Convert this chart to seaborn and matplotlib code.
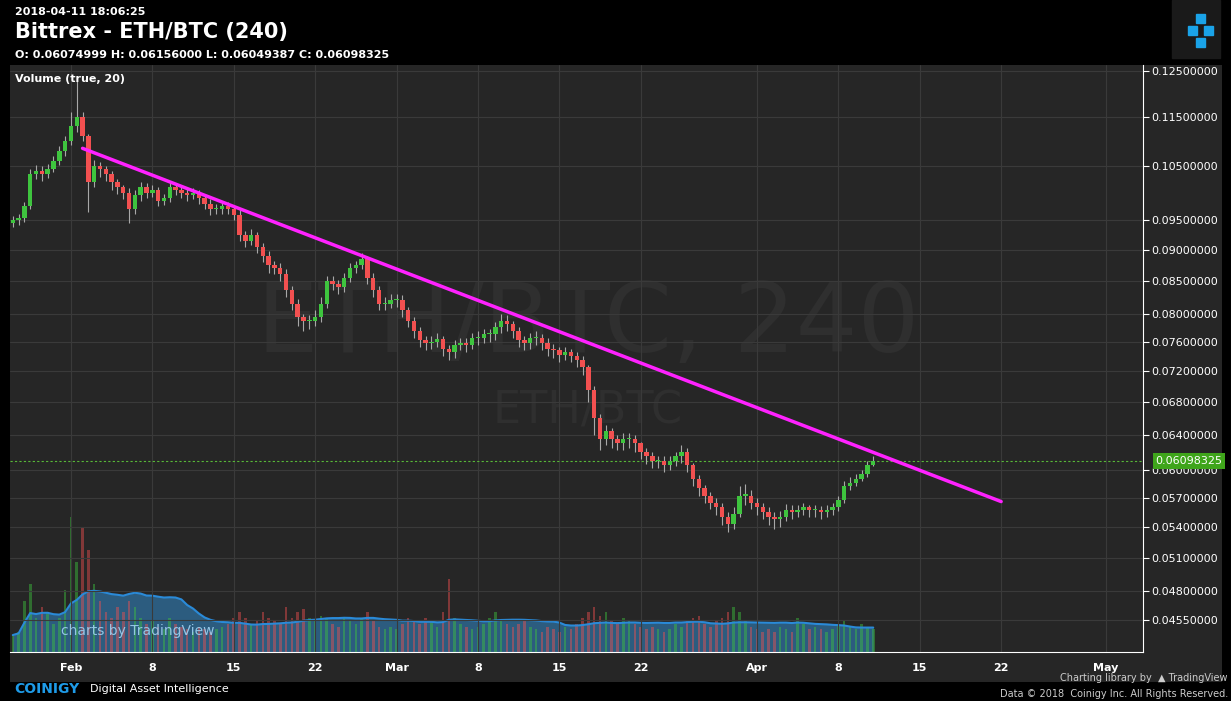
import numpy as np
import pandas as pd
import matplotlib
matplotlib.use("Agg")
import matplotlib.pyplot as plt
import seaborn as sns
from matplotlib.patches import Rectangle

closes = [.0950,.0955,.0975,.1035,.1040,.1035,.1045,.1060,.1080,.1100,
.1130,.1150,.1110,.1020,.1050,.1045,.1035,.1020,.1010,.1000,
.0970,.0995,.1010,.1000,.1005,.0985,.0990,.1010,.1005,.1000,
.0995,.1000,.0990,.0980,.0970,.0970,.0975,.0970,.0960,.0925,
.0915,.0925,.0905,.0890,.0875,.0870,.0860,.0835,.0815,.0795,
.0790,.0790,.0795,.0815,.0850,.0845,.0840,.0855,.0870,.0875,
.0885,.0855,.0835,.0815,.0815,.0820,.0820,.0805,.0790,.0775,
.0762,.0758,.0760,.0763,.0750,.0745,.0755,.0758,.0755,.0765,
.0765,.0770,.0770,.0780,.0790,.0785,.0775,.0762,.0758,.0765,
.0765,.0758,.0750,.0748,.0742,.0745,.0740,.0735,.0725,.0695,
.0660,.0635,.0645,.0635,.0630,.0635,.0635,.0630,.0620,.0615,
.0610,.0610,.0605,.0610,.0615,.0620,.0605,.0590,.0580,.0572,
.0565,.0560,.0550,.0543,.0553,.0572,.0572,.0565,.0560,.0555,
.0550,.0548,.0550,.0557,.0555,.0557,.0560,.0557,.0557,.0555,
.0557,.0560,.0568,.0582,.0586,.0590,.0595,.0605,.0610]
first_open = 0.0945
highs = [.0958,.0962,.0982,.1045,.1052,.1050,.1055,.1070,.1090,.1110,
.1160,.1230,.1160,.1115,.1062,.1058,.1050,.1040,.1025,.1015,
.1008,.1005,.1020,.1018,.1015,.1010,.0998,.1020,.1015,.1012,
.1008,.1008,.1005,.0995,.0988,.0980,.0985,.0982,.0978,.0968,
.0932,.0935,.0930,.0912,.0898,.0882,.0878,.0868,.0842,.0822,
.0800,.0798,.0805,.0825,.0858,.0858,.0852,.0862,.0878,.0882,
.0895,.0890,.0862,.0842,.0825,.0830,.0830,.0828,.0810,.0795,
.0780,.0768,.0768,.0772,.0768,.0755,.0762,.0765,.0765,.0772,
.0775,.0778,.0778,.0788,.0800,.0798,.0790,.0780,.0768,.0772,
.0775,.0770,.0765,.0756,.0752,.0752,.0750,.0745,.0740,.0728,
.0700,.0665,.0652,.0648,.0640,.0642,.0642,.0640,.0632,.0625,
.0620,.0616,.0615,.0616,.0620,.0628,.0625,.0608,.0594,.0584,
.0576,.0570,.0565,.0555,.0560,.0582,.0585,.0578,.0570,.0565,
.0560,.0555,.0556,.0563,.0562,.0562,.0564,.0562,.0562,.0561,
.0562,.0565,.0572,.0588,.0592,.0596,.0600,.0610,.0616]
lows = [.0938,.0942,.0948,.0970,.1025,.1022,.1028,.1038,.1052,.1070,
.1092,.1118,.1100,.0965,.1010,.1030,.1022,.1005,.0998,.0988,
.0945,.0962,.0985,.0990,.0992,.0975,.0978,.0982,.0995,.0990,
.0985,.0988,.0980,.0970,.0960,.0962,.0962,.0962,.0950,.0915,
.0905,.0908,.0895,.0880,.0862,.0860,.0850,.0825,.0805,.0782,
.0775,.0778,.0782,.0788,.0808,.0835,.0830,.0832,.0848,.0862,
.0868,.0845,.0825,.0805,.0805,.0808,.0810,.0795,.0780,.0765,
.0752,.0748,.0750,.0752,.0740,.0735,.0738,.0748,.0745,.0750,
.0755,.0758,.0760,.0762,.0772,.0775,.0765,.0752,.0748,.0750,
.0755,.0748,.0740,.0738,.0732,.0735,.0732,.0725,.0715,.0680,
.0640,.0622,.0628,.0625,.0622,.0622,.0625,.0620,.0612,.0606,
.0602,.0602,.0598,.0600,.0604,.0608,.0598,.0582,.0572,.0564,
.0558,.0552,.0542,.0535,.0538,.0550,.0562,.0558,.0552,.0548,
.0542,.0538,.0540,.0546,.0548,.0550,.0552,.0550,.0550,.0548,
.0550,.0552,.0556,.0565,.0578,.0582,.0588,.0592,.0604]
volumes = [15,18,45,60,30,40,35,25,30,55,
120,80,110,90,60,45,35,30,40,35,
45,40,30,25,28,22,20,30,25,22,
20,18,22,20,18,20,22,25,30,35,
30,25,28,35,30,28,25,40,30,35,
38,30,28,32,30,25,22,30,28,25,
30,35,28,22,20,22,20,25,30,28,
25,30,28,22,35,65,30,25,22,20,
22,25,30,35,28,25,22,25,28,22,
20,18,22,20,18,22,20,25,30,35,
40,32,35,28,25,30,28,25,22,20,
22,20,18,20,25,22,28,30,32,25,
22,28,30,35,40,35,28,22,20,18,
20,18,22,20,18,30,25,20,22,20,
18,20,25,28,22,20,25,22,20]
start_day = 26.0      # day-of-year offset: Jan 27 00:00
step_days = 0.5
tick_days = [31, 38, 45, 52, 59, 66, 73, 80, 90, 97, 104, 111, 120]
tick_labels = ["Feb", "8", "15", "22", "Mar", "8", "15", "22", "Apr", "8", "15", "22", "May"]
price_ticks = [0.125, 0.115, 0.105, 0.095, 0.090, 0.085, 0.080, 0.076, 0.072,
               0.068, 0.064, 0.060, 0.057, 0.054, 0.051, 0.048, 0.0455]
trend_days = [32.0, 111.0]
trend_prices = [0.1085, 0.0566]
last_price = 0.06098325

n = len(closes)
df = pd.DataFrame({"t": start_day + step_days * np.arange(n), "close": closes,
                   "high": highs, "low": lows, "vol": volumes})
df["open"] = [first_open] + closes[:-1]
df["up"] = df["close"] >= df["open"]
df["vma"] = df["vol"].rolling(20, min_periods=1).mean()

W, H = 1231, 701
sns.set_style("dark")
fig = plt.figure(figsize=(W / 100, H / 100), dpi=100, facecolor="black")
bg = fig.add_axes([10 / W, 1 - 682 / H, 1212 / W, 617 / H])
bg.set_facecolor("#262626"); bg.set_xticks([]); bg.set_yticks([])
for s in bg.spines.values():
    s.set_visible(False)

ax = fig.add_axes([10 / W, 1 - 652 / H, 1133 / W, 587 / H])
ax.set_facecolor("#262626")
ax.set_yscale("log")
ax.set_xlim(25.76, 123.2)
ax.set_ylim(0.0429, 0.1265)

green, red = "#3ec43e", "#f25050"
cols = np.where(df["up"], green, red)

axv = ax.twinx()
axv.set_ylim(0, 520)
axv.set_yticks([])
ax.set_zorder(axv.get_zorder() + 1)
ax.patch.set_visible(False)
axv.patch.set_visible(True)
axv.patch.set_facecolor("#262626")
axv.fill_between(df["t"], 0, df["vma"], color="#2f6f9e", alpha=0.75, zorder=1, lw=0)
axv.bar(df["t"], df["vol"], width=0.22, color=cols, alpha=0.45, zorder=2, lw=0)
axv.plot(df["t"], df["vma"], color="#2a8ad8", lw=1.5, zorder=3)
for s in axv.spines.values():
    s.set_visible(False)

ax.vlines(df["t"], df["low"], df["high"], color="#a8a8a8", lw=0.8, zorder=3)
bottom = np.minimum(df["open"], df["close"])
height = np.maximum(np.abs(df["close"] - df["open"]), 0.00015)
ax.bar(df["t"], height, bottom=bottom, width=0.38, color=cols, zorder=4, lw=0)

sns.lineplot(x=trend_days, y=trend_prices, ax=ax, color="#ff22ff", lw=2.5, zorder=6)
ax.axhline(last_price, color="#58b838", lw=0.8, ls=(0, (2, 2)), zorder=2)

ax.yaxis.tick_right()
ax.set_yticks(price_ticks)
ax.set_yticklabels([f"{p:.8f}" for p in price_ticks])
ax.yaxis.set_minor_locator(matplotlib.ticker.NullLocator())
ax.set_xticks(tick_days)
ax.set_xticklabels(tick_labels)
ax.tick_params(axis="y", colors="white", labelsize=8, length=4, pad=2,
               left=False, labelleft=False, right=True, labelright=True)
ax.tick_params(axis="x", colors="white", labelsize=8, length=4, pad=4)
for lab in ax.get_xticklabels():
    lab.set_fontweight("bold")
ax.grid(True, color="#3a3a3a", lw=0.8)
ax.set_axisbelow(True)
for s in ["top", "left"]:
    ax.spines[s].set_visible(False)
for s in ["right", "bottom"]:
    ax.spines[s].set_visible(True)
    ax.spines[s].set_color("white")
ax.set_xlabel(""); ax.set_ylabel("")
axv.text(0.51, 0.557, "ETH/BTC, 240", transform=ax.transAxes, fontsize=70,
         color="#2f2f2f", ha="center", va="center", zorder=0)
axv.text(0.51, 0.41, "ETH/BTC", transform=ax.transAxes, fontsize=32,
         color="#2f2f2f", ha="center", va="center", zorder=0)

ax.annotate(f"{last_price:.8f}", xy=(1.0, last_price), xycoords=("axes fraction", "data"),
            xytext=(9, 0), textcoords="offset points", fontsize=8, color="white",
            va="center", ha="left",
            bbox=dict(boxstyle="square,pad=0.25", fc="#3fa51b", ec="none"),
            annotation_clip=False)

ax.text(0.004, 0.985, "Volume (true, 20)", transform=ax.transAxes, color="white",
        fontsize=8, fontweight="bold", va="top")
ax.text(0.045, 0.035, "charts by TradingView", transform=ax.transAxes, color="#9fd0f0",
        fontsize=10, va="center", alpha=0.9)

fig.text(15 / W, 1 - 12 / H, "2018-04-11 18:06:25", color="white", fontsize=8,
         fontweight="bold", va="center")
fig.text(15 / W, 1 - 32 / H, "Bittrex - ETH/BTC (240)", color="white", fontsize=15,
         fontweight="bold", va="center")
fig.text(15 / W, 1 - 55 / H, "O: 0.06074999 H: 0.06156000 L: 0.06049387 C: 0.06098325",
         color="white", fontsize=8, fontweight="bold", va="center")
fig.patches.append(Rectangle((1172 / W, 1 - 58 / H), 48 / W, 58 / H,
                             transform=fig.transFigure, color="#1a1a1a", zorder=0))
for (bx, by) in [(1196, 14), (1188, 26), (1196, 38), (1204, 26)]:
    fig.patches.append(Rectangle((bx / W, 1 - (by + 9) / H), 9 / W, 9 / H,
                                 transform=fig.transFigure, color="#1aa3e8", zorder=1))

fig.text(14 / W, 1 - 689 / H, "COINIGY", color="#1e9be8", fontsize=10,
         fontweight="bold", va="center")
fig.text(90 / W, 1 - 689 / H, "Digital Asset Intelligence", color="white", fontsize=8,
         va="center")
fig.text(1228 / W, 1 - 678 / H, "Charting library by  \u25B2 TradingView", color="#cccccc",
         fontsize=7, va="center", ha="right")
fig.text(1228 / W, 1 - 694 / H, "Data \u00A9 2018  Coinigy Inc. All Rights Reserved.",
         color="#cccccc", fontsize=7, va="center", ha="right")

fig.savefig("out.png", dpi=100, facecolor="black")
